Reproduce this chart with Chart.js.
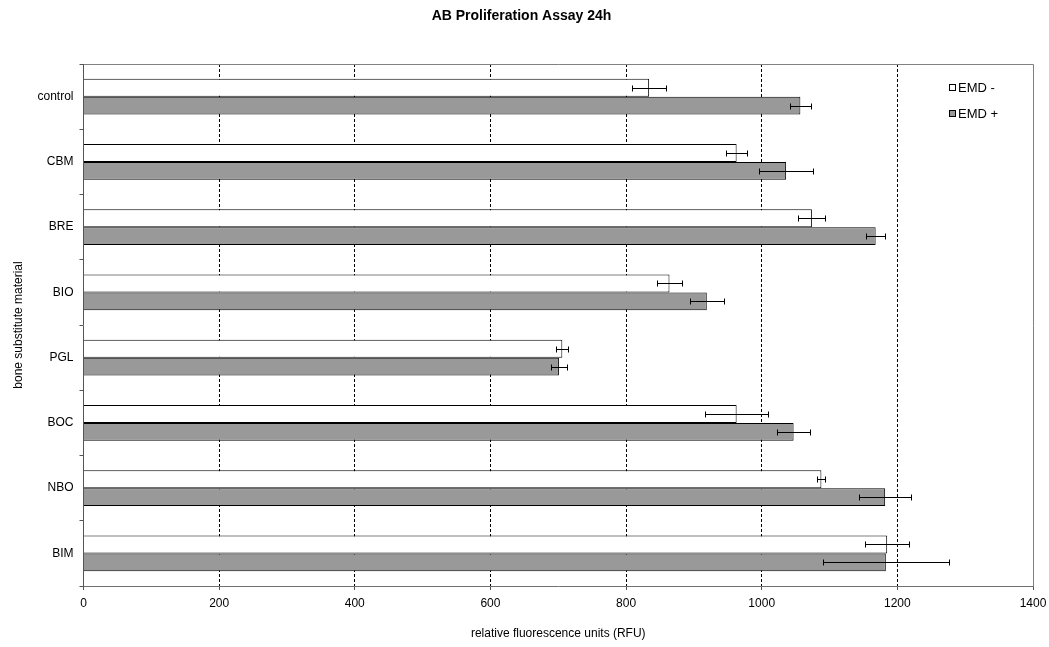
<!DOCTYPE html>
<html>
<head>
<meta charset="utf-8">
<title>AB Proliferation Assay 24h</title>
<script src="https://cdn.jsdelivr.net/npm/chart.js@4"></script>
<style>
  html, body { margin: 0; padding: 0; background: #fff; }
  #wrap { width: 1049px; height: 647px; }
</style>
</head>
<body>
<div id="wrap"><canvas id="chart" width="1049" height="647"></canvas></div>
<script>
// values
const categories = ["control", "CBM", "BRE", "BIO", "PGL", "BOC", "NBO", "BIM"];
const emdMinus = [834, 963, 1074, 864, 706, 963, 1088, 1185];
const emdMinusErr = [25, 15, 20, 18, 9, 46, 6, 32];
const emdPlus = [1057, 1036, 1168, 919, 701, 1047, 1182, 1183];
const emdPlusErr = [16, 40, 14, 25, 12, 24, 38, 93];
const xTicks = [0, 200, 400, 600, 800, 1000, 1200, 1400];

const seriesNames = ["EMD -", "EMD +"];
const seriesColors = ["#ffffff", "#999999"];
const seriesErrors = [emdMinusErr, emdPlusErr];

const font = "'Liberation Sans', Arial, sans-serif";

// error bars on top of the bars
const errorBars = {
    id: "errorBars",
    afterDatasetsDraw(chart) {
        const ctx = chart.ctx;
        const xs = chart.scales.x;
        ctx.save();
        ctx.strokeStyle = "#000";
        ctx.lineWidth = 1;
        chart.data.datasets.forEach((ds, di) => {
            const meta = chart.getDatasetMeta(di);
            meta.data.forEach((bar, i) => {
                const v = ds.data[i];
                const e = seriesErrors[di][i];
                const x1 = Math.round(xs.getPixelForValue(v - e)) + 0.5;
                const x2 = Math.round(xs.getPixelForValue(v + e)) + 0.5;
                const y = Math.round(bar.y) + 0.5;
                ctx.beginPath();
                ctx.moveTo(x1, y);
                ctx.lineTo(x2, y);
                ctx.moveTo(x1, y - 3);
                ctx.lineTo(x1, y + 3);
                ctx.moveTo(x2, y - 3);
                ctx.lineTo(x2, y + 3);
                ctx.stroke();
            });
        });
        ctx.restore();
    }
};

// top and right frame of the plot, plus the legend inside it
const frameAndLegend = {
    id: "frameAndLegend",
    afterDraw(chart) {
        const ctx = chart.ctx;
        const a = chart.chartArea;
        const top = Math.round(a.top) + 0.5;
        const right = Math.round(a.right) + 0.5;
        ctx.save();
        ctx.strokeStyle = "#808080";
        ctx.lineWidth = 1;
        ctx.beginPath();
        ctx.moveTo(Math.round(a.left), top);
        ctx.lineTo(right, top);
        ctx.lineTo(right, Math.round(a.bottom));
        ctx.stroke();

        ctx.font = "13px " + font;
        ctx.textBaseline = "middle";
        ctx.textAlign = "left";
        seriesNames.forEach((name, i) => {
            const bx = Math.round(a.right) - 84;
            const by = Math.round(a.top) + 20 + i * 26;
            ctx.fillStyle = seriesColors[i];
            ctx.fillRect(bx, by, 7, 7);
            ctx.strokeStyle = "#000";
            ctx.strokeRect(bx + 0.5, by + 0.5, 6, 6);
            ctx.fillStyle = "#000";
            ctx.fillText(name, bx + 9, by + 4);
        });
        ctx.restore();
    }
};

const ctx = document.getElementById("chart").getContext("2d");

new Chart(ctx, {
    type: "bar",
    data: {
        labels: categories,
        datasets: [
            {
                label: seriesNames[0],
                data: emdMinus,
                backgroundColor: seriesColors[0],
                borderColor: "#000",
                borderWidth: 1
            },
            {
                label: seriesNames[1],
                data: emdPlus,
                backgroundColor: seriesColors[1],
                borderColor: "#000",
                borderWidth: 1
            }
        ]
    },
    options: {
        indexAxis: "y",
        responsive: false,
        animation: false,
        categoryPercentage: 0.545,
        barPercentage: 1,
        layout: {
            padding: { left: 10, right: 16, top: 0, bottom: 0 }
        },
        scales: {
            x: {
                type: "linear",
                min: 0,
                max: 1400,
                afterBuildTicks: (s) => {
                    s.ticks = xTicks.map(v => ({ value: v }));
                },
                afterFit: (s) => {
                    s.height = 61;
                    s.paddingLeft = 0;
                    s.paddingRight = 0;
                },
                ticks: {
                    color: "#000",
                    padding: 6,
                    font: { family: font, size: 12 },
                    callback: (v) => String(v)
                },
                grid: {
                    color: (c) => (c.tick && (c.tick.value === 0 || c.tick.value === 1400)) ? "rgba(0,0,0,0)" : "#000",
                    tickColor: "#555",
                    tickLength: 4,
                    tickBorderDash: []
                },
                border: { color: "#707070", dash: [3, 2] },
                title: {
                    display: true,
                    text: "relative fluorescence units (RFU)",
                    color: "#000",
                    padding: { top: 0, bottom: 6 },
                    font: { family: font, size: 12 }
                }
            },
            y: {
                afterFit: (s) => { s.width = 73.5; },
                ticks: {
                    color: "#000",
                    padding: 6,
                    font: { family: font, size: 12 }
                },
                grid: {
                    drawOnChartArea: false,
                    color: "#555",
                    tickLength: 4
                },
                border: { color: "#555" },
                title: {
                    display: true,
                    text: "bone substitute material",
                    color: "#000",
                    padding: { top: 1, bottom: 0 },
                    font: { family: font, size: 12 }
                }
            }
        },
        plugins: {
            legend: { display: false },
            tooltip: { enabled: false },
            title: {
                display: true,
                text: "AB Proliferation Assay 24h",
                color: "#000",
                padding: { top: 8, bottom: 39.2 },
                font: { family: font, size: 14, weight: "bold" }
            }
        }
    },
    plugins: [errorBars, frameAndLegend]
});
</script>
</body>
</html>
